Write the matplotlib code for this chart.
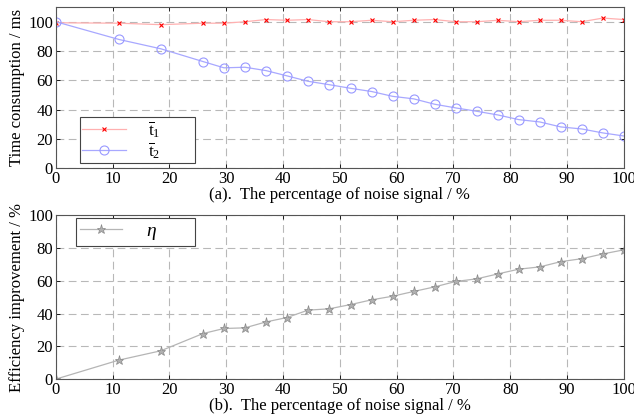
import numpy as np
import matplotlib.pyplot as plt

plt.rcParams['font.family'] = ['Liberation Serif', 'DejaVu Serif']
plt.rcParams['mathtext.fontset'] = 'custom'
plt.rcParams['mathtext.rm'] = 'Liberation Serif'
plt.rcParams['mathtext.it'] = 'Liberation Serif:italic'

# noise percentage (steps of 100/27)
noise = [0, 11.1, 18.5, 25.9, 29.6, 33.3, 37.0, 40.7, 44.4, 48.1, 51.9, 55.6,
         59.3, 63.0, 66.7, 70.4, 74.1, 77.8, 81.5, 85.2, 88.9, 92.6, 96.3, 100]

t1 = [99.3, 99, 98, 99, 99, 100, 101.5, 101, 101.5, 100, 100, 101,
      100, 101, 101.5, 100, 100, 101, 100, 101, 101, 100, 102.5, 101.5]
t2 = [100, 87.9, 81.5, 72.8, 68.5, 68.9, 66.6, 63, 59.3, 57, 54.5, 52.3,
      49, 47.3, 43.6, 41.1, 38.8, 36.3, 33.1, 31.5, 28.1, 26.7, 24, 21.9]
eta = [0, 11.6, 17.3, 27.8, 30.9, 31.3, 34.9, 37.6, 42.1, 42.9, 45.5, 48.4,
       50.6, 53.5, 56.3, 59.6, 61.2, 64.2, 67.1, 68.5, 71.7, 73.5, 76.4, 78.9]

xticks = [0, 10, 20, 30, 40, 50, 60, 70, 80, 90, 100]
yticks = [0, 20, 40, 60, 80, 100]

fig = plt.figure(figsize=(6.34, 4.18), dpi=100)
ax1 = fig.add_axes([0.088, 0.598, 0.896, 0.385])
ax2 = fig.add_axes([0.088, 0.093, 0.896, 0.392])


def style(ax, ytop):
    ax.set_xlim(0, 100)
    ax.set_ylim(0, ytop)
    ax.set_xticks(xticks)
    ax.set_yticks(yticks)
    ax.grid(True, linestyle=(0, (7, 4)), color='#b8b8b8', linewidth=0.8)
    ax.tick_params(direction='in', top=True, right=True, length=3,
                   labelsize=12, pad=2, width=0.6)
    for s in ax.spines.values():
        s.set_color('#555555')
        s.set_linewidth(0.8)


ax1.plot(noise, t1, color='#ffb0b0', lw=0.9, marker='x', ms=3.5,
         mec='red', mew=0.8, label=r'$\overline{\mathrm{t}}_1$' + '        ')
ax1.plot(noise, t2, color='#a8a8ff', lw=0.9, marker='o', ms=6.5,
         mfc='none', mec='#9999ff', mew=0.8, label=r'$\overline{\mathrm{t}}_2$' + '        ')
style(ax1, 110)
ax1.set_ylabel('Time consumption / ms', fontsize=12, labelpad=2)
ax1.set_xlabel('(a).  The percentage of noise signal / %', fontsize=12, labelpad=0)
leg1 = ax1.legend(loc='lower left', bbox_to_anchor=(0.042, 0.03), fontsize=12.5,
                  fancybox=False, edgecolor='#444444', framealpha=1,
                  handlelength=2.5, borderaxespad=0, labelspacing=0.0,
                  handletextpad=1.3, borderpad=0.15)
leg1.get_frame().set_linewidth(0.8)

ax2.plot(noise, eta, color='#b5b5b5', lw=0.9, marker='*', ms=6.5,
         mec='#888888', mfc='#b0b0b0', mew=0.5, label=r'$\mathit{\eta}$' + '        ')
style(ax2, 100)
ax2.set_ylabel('Efficiency improvement / %', fontsize=12, labelpad=2)
ax2.set_xlabel('(b).  The percentage of noise signal / %', fontsize=12, labelpad=0)
leg2 = ax2.legend(loc='upper left', bbox_to_anchor=(0.035, 0.982), fontsize=14,
                  fancybox=False, edgecolor='#444444', framealpha=1,
                  handlelength=2.2, borderaxespad=0, handletextpad=1.2,
                  borderpad=0.2)
leg2.get_frame().set_linewidth(0.8)

fig.savefig('out.png', dpi=100)
